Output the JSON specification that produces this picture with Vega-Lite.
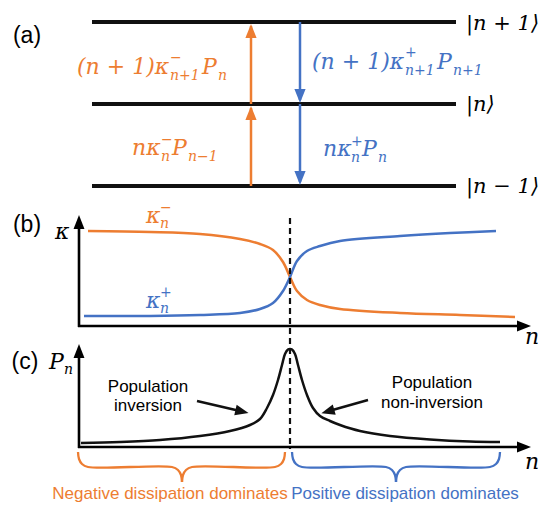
{
  "$schema": "https://vega.github.io/schema/vega-lite/v6.json",
  "width": 547,
  "height": 506,
  "autosize": {"type": "fit", "contains": "padding"},
  "padding": 0,
  "background": "white",
  "config": {"view": {"stroke": null}},
  "datasets": {
    "levels": [
      {"x": 92, "x2": 456, "y": 22},
      {"x": 92, "x2": 456, "y": 104},
      {"x": 92, "x2": 456, "y": 186}
    ],
    "vArrows": [
      {"x": 251, "y": 186, "y2": 108, "g": "neg"},
      {"x": 251, "y": 104, "y2": 26, "g": "neg"},
      {"x": 300, "y": 22, "y2": 100, "g": "pos"},
      {"x": 300, "y": 104, "y2": 182, "g": "pos"}
    ],
    "headsUpA": [
      {"x": 251, "y": 113, "g": "neg"},
      {"x": 251, "y": 31, "g": "neg"}
    ],
    "headsDownA": [
      {"x": 300, "y": 96, "g": "pos"},
      {"x": 300, "y": 178, "g": "pos"}
    ],
    "axes": [
      {"x": 79, "y": 327, "x2": 79, "y2": 222},
      {"x": 78, "y": 326, "x2": 524, "y2": 326},
      {"x": 79, "y": 448, "x2": 79, "y2": 351},
      {"x": 78, "y": 447, "x2": 524, "y2": 447}
    ],
    "axisHeadsUp": [
      {"x": 79, "y": 222},
      {"x": 79, "y": 351}
    ],
    "axisHeadsRight": [
      {"x": 524, "y": 326},
      {"x": 524, "y": 447}
    ],
    "dash": [{"x": 290, "y": 218, "y2": 449}],
    "kappa": [
      {"g": "neg", "i": 0, "x": 88, "y": 231},
      {"g": "neg", "i": 1, "x": 150, "y": 232},
      {"g": "neg", "i": 2, "x": 200, "y": 234},
      {"g": "neg", "i": 3, "x": 240, "y": 239},
      {"g": "neg", "i": 4, "x": 260, "y": 244},
      {"g": "neg", "i": 5, "x": 273, "y": 250},
      {"g": "neg", "i": 6, "x": 283, "y": 262},
      {"g": "neg", "i": 7, "x": 290, "y": 277},
      {"g": "neg", "i": 8, "x": 297, "y": 291},
      {"g": "neg", "i": 9, "x": 307, "y": 300},
      {"g": "neg", "i": 10, "x": 320, "y": 305},
      {"g": "neg", "i": 11, "x": 340, "y": 309},
      {"g": "neg", "i": 12, "x": 400, "y": 313},
      {"g": "neg", "i": 13, "x": 460, "y": 315},
      {"g": "neg", "i": 14, "x": 515, "y": 317},
      {"g": "pos", "i": 0, "x": 84, "y": 316},
      {"g": "pos", "i": 1, "x": 150, "y": 316},
      {"g": "pos", "i": 2, "x": 200, "y": 315},
      {"g": "pos", "i": 3, "x": 240, "y": 313},
      {"g": "pos", "i": 4, "x": 260, "y": 309},
      {"g": "pos", "i": 5, "x": 273, "y": 303},
      {"g": "pos", "i": 6, "x": 283, "y": 291},
      {"g": "pos", "i": 7, "x": 290, "y": 277},
      {"g": "pos", "i": 8, "x": 297, "y": 261},
      {"g": "pos", "i": 9, "x": 307, "y": 251},
      {"g": "pos", "i": 10, "x": 320, "y": 246},
      {"g": "pos", "i": 11, "x": 340, "y": 241},
      {"g": "pos", "i": 12, "x": 400, "y": 236},
      {"g": "pos", "i": 13, "x": 450, "y": 233},
      {"g": "pos", "i": 14, "x": 496, "y": 231}
    ],
    "pn": [
      {"i": 0, "x": 81, "y": 443},
      {"i": 1, "x": 120, "y": 442},
      {"i": 2, "x": 160, "y": 440},
      {"i": 3, "x": 200, "y": 436},
      {"i": 4, "x": 230, "y": 431},
      {"i": 5, "x": 250, "y": 425},
      {"i": 6, "x": 260, "y": 419},
      {"i": 7, "x": 267, "y": 408},
      {"i": 8, "x": 273, "y": 395},
      {"i": 9, "x": 278, "y": 380},
      {"i": 10, "x": 282, "y": 365},
      {"i": 11, "x": 285, "y": 354},
      {"i": 12, "x": 288, "y": 349.5},
      {"i": 13, "x": 290, "y": 349},
      {"i": 14, "x": 292, "y": 349.5},
      {"i": 15, "x": 295, "y": 354},
      {"i": 16, "x": 298, "y": 365},
      {"i": 17, "x": 302, "y": 380},
      {"i": 18, "x": 307, "y": 395},
      {"i": 19, "x": 313, "y": 408},
      {"i": 20, "x": 320, "y": 416},
      {"i": 21, "x": 330, "y": 421},
      {"i": 22, "x": 340, "y": 425},
      {"i": 23, "x": 360, "y": 431},
      {"i": 24, "x": 390, "y": 436},
      {"i": 25, "x": 430, "y": 439.5},
      {"i": 26, "x": 470, "y": 441.5},
      {"i": 27, "x": 500, "y": 442}
    ],
    "annot": [
      {"x": 197, "y": 401, "x2": 240, "y2": 411},
      {"x": 368, "y": 400, "x2": 329, "y2": 411}
    ],
    "annotHeadR": [{"x": 242, "y": 411.6}],
    "annotHeadL": [{"x": 327.8, "y": 411.4}],
    "braces": [
      {"g": "neg", "h": "a", "i": 0, "x": 78, "y": 452},
      {"g": "neg", "h": "a", "i": 1, "x": 79, "y": 459},
      {"g": "neg", "h": "a", "i": 2, "x": 82, "y": 464},
      {"g": "neg", "h": "a", "i": 3, "x": 88, "y": 467},
      {"g": "neg", "h": "a", "i": 4, "x": 172, "y": 467},
      {"g": "neg", "h": "a", "i": 5, "x": 178, "y": 470},
      {"g": "neg", "h": "a", "i": 6, "x": 181, "y": 475},
      {"g": "neg", "h": "a", "i": 7, "x": 182, "y": 482},
      {"g": "neg", "h": "b", "i": 0, "x": 182, "y": 482},
      {"g": "neg", "h": "b", "i": 1, "x": 183, "y": 475},
      {"g": "neg", "h": "b", "i": 2, "x": 186, "y": 470},
      {"g": "neg", "h": "b", "i": 3, "x": 192, "y": 467},
      {"g": "neg", "h": "b", "i": 4, "x": 275, "y": 467},
      {"g": "neg", "h": "b", "i": 5, "x": 281, "y": 464},
      {"g": "neg", "h": "b", "i": 6, "x": 284, "y": 459},
      {"g": "neg", "h": "b", "i": 7, "x": 285, "y": 452},
      {"g": "pos", "h": "c", "i": 0, "x": 292, "y": 452},
      {"g": "pos", "h": "c", "i": 1, "x": 293, "y": 459},
      {"g": "pos", "h": "c", "i": 2, "x": 296, "y": 464},
      {"g": "pos", "h": "c", "i": 3, "x": 302, "y": 467},
      {"g": "pos", "h": "c", "i": 4, "x": 386, "y": 467},
      {"g": "pos", "h": "c", "i": 5, "x": 392, "y": 470},
      {"g": "pos", "h": "c", "i": 6, "x": 395, "y": 475},
      {"g": "pos", "h": "c", "i": 7, "x": 396, "y": 482},
      {"g": "pos", "h": "d", "i": 0, "x": 396, "y": 482},
      {"g": "pos", "h": "d", "i": 1, "x": 397, "y": 475},
      {"g": "pos", "h": "d", "i": 2, "x": 400, "y": 470},
      {"g": "pos", "h": "d", "i": 3, "x": 406, "y": 467},
      {"g": "pos", "h": "d", "i": 4, "x": 490, "y": 467},
      {"g": "pos", "h": "d", "i": 5, "x": 496, "y": 464},
      {"g": "pos", "h": "d", "i": 6, "x": 499, "y": 459},
      {"g": "pos", "h": "d", "i": 7, "x": 500, "y": 452}
    ],
    "panelLabels": [
      {"x": 27, "y": 36, "t": "(a)"},
      {"x": 27, "y": 225, "t": "(b)"},
      {"x": 25, "y": 362, "t": "(c)"}
    ],
    "popText": [
      {"x": 148, "y": 387, "t": "Population"},
      {"x": 148, "y": 406, "t": "inversion"},
      {"x": 432, "y": 383, "t": "Population"},
      {"x": 432, "y": 403, "t": "non-inversion"}
    ],
    "bottomText": [
      {"x": 170, "y": 494, "t": "Negative dissipation dominates", "g": "neg"},
      {"x": 405, "y": 494, "t": "Positive dissipation dominates", "g": "pos"}
    ],
    "mathMain": [
      {"x": 77, "y": 74, "t": "(n + 1)κ", "g": "neg"},
      {"x": 202, "y": 74, "t": "P", "g": "neg"},
      {"x": 132, "y": 155, "t": "nκ", "g": "neg"},
      {"x": 172, "y": 155, "t": "P", "g": "neg"},
      {"x": 312, "y": 69, "t": "(n + 1)κ", "g": "pos"},
      {"x": 437, "y": 69, "t": "P", "g": "pos"},
      {"x": 323, "y": 156, "t": "nκ", "g": "pos"},
      {"x": 362, "y": 156, "t": "P", "g": "pos"},
      {"x": 55, "y": 239, "t": "κ", "g": "k"},
      {"x": 525, "y": 344, "t": "n", "g": "k"},
      {"x": 525, "y": 469, "t": "n", "g": "k"},
      {"x": 49, "y": 369, "t": "P", "g": "k"},
      {"x": 146, "y": 223, "t": "κ", "g": "neg"},
      {"x": 146, "y": 308, "t": "κ", "g": "pos"}
    ],
    "kets": [
      {"x": 466, "y": 30, "t": "|n + 1⟩"},
      {"x": 466, "y": 111, "t": "|n⟩"},
      {"x": 466, "y": 193, "t": "|n − 1⟩"}
    ],
    "mathScript": [
      {"x": 170, "y": 62, "t": "−", "g": "neg"},
      {"x": 170, "y": 80, "t": "n+1", "g": "neg"},
      {"x": 218, "y": 80, "t": "n", "g": "neg"},
      {"x": 161, "y": 144, "t": "−", "g": "neg"},
      {"x": 161, "y": 161, "t": "n", "g": "neg"},
      {"x": 188, "y": 161, "t": "n−1", "g": "neg"},
      {"x": 405, "y": 57, "t": "+", "g": "pos"},
      {"x": 405, "y": 75, "t": "n+1", "g": "pos"},
      {"x": 453, "y": 75, "t": "n+1", "g": "pos"},
      {"x": 351, "y": 146, "t": "+", "g": "pos"},
      {"x": 351, "y": 162, "t": "n", "g": "pos"},
      {"x": 378, "y": 162, "t": "n", "g": "pos"},
      {"x": 64, "y": 374, "t": "n", "g": "k"},
      {"x": 160, "y": 212, "t": "−", "g": "neg"},
      {"x": 160, "y": 228, "t": "n", "g": "neg"},
      {"x": 160, "y": 297, "t": "+", "g": "pos"},
      {"x": 160, "y": 313, "t": "n", "g": "pos"}
    ]
  },
  "layer": [
    {
      "data": {"name": "levels"},
      "mark": {"type": "rule", "strokeWidth": 3.8, "color": "#111111"},
      "encoding": {
        "x": {"field": "x", "type": "quantitative", "scale": {"domain": [0, 547], "nice": false, "zero": false}, "axis": null},
        "x2": {"field": "x2"},
        "y": {"field": "y", "type": "quantitative", "scale": {"domain": [0, 506], "nice": false, "zero": false, "reverse": true}, "axis": null}
      }
    },
    {
      "data": {"name": "vArrows"},
      "mark": {"type": "rule", "strokeWidth": 2.5},
      "encoding": {
        "x": {"field": "x", "type": "quantitative", "scale": {"domain": [0, 547], "nice": false, "zero": false}, "axis": null},
        "y": {"field": "y", "type": "quantitative", "scale": {"domain": [0, 506], "nice": false, "zero": false, "reverse": true}, "axis": null},
        "y2": {"field": "y2"},
        "color": {"field": "g", "type": "nominal", "scale": {"domain": ["neg", "pos", "k"], "range": ["#ED7D31", "#4472C4", "#000000"]}, "legend": null}
      }
    },
    {
      "data": {"name": "headsUpA"},
      "mark": {"type": "point", "shape": "M0,-1L0.8,1L-0.8,1Z", "size": 196, "filled": true, "opacity": 1, "strokeWidth": 0},
      "encoding": {
        "x": {"field": "x", "type": "quantitative", "scale": {"domain": [0, 547], "nice": false, "zero": false}, "axis": null},
        "y": {"field": "y", "type": "quantitative", "scale": {"domain": [0, 506], "nice": false, "zero": false, "reverse": true}, "axis": null},
        "color": {"field": "g", "type": "nominal", "scale": {"domain": ["neg", "pos", "k"], "range": ["#ED7D31", "#4472C4", "#000000"]}, "legend": null}
      }
    },
    {
      "data": {"name": "headsDownA"},
      "mark": {"type": "point", "shape": "M0,1L0.8,-1L-0.8,-1Z", "size": 196, "filled": true, "opacity": 1, "strokeWidth": 0},
      "encoding": {
        "x": {"field": "x", "type": "quantitative", "scale": {"domain": [0, 547], "nice": false, "zero": false}, "axis": null},
        "y": {"field": "y", "type": "quantitative", "scale": {"domain": [0, 506], "nice": false, "zero": false, "reverse": true}, "axis": null},
        "color": {"field": "g", "type": "nominal", "scale": {"domain": ["neg", "pos", "k"], "range": ["#ED7D31", "#4472C4", "#000000"]}, "legend": null}
      }
    },
    {
      "data": {"name": "axes"},
      "mark": {"type": "rule", "strokeWidth": 2.6, "color": "#000000"},
      "encoding": {
        "x": {"field": "x", "type": "quantitative", "scale": {"domain": [0, 547], "nice": false, "zero": false}, "axis": null},
        "x2": {"field": "x2"},
        "y": {"field": "y", "type": "quantitative", "scale": {"domain": [0, 506], "nice": false, "zero": false, "reverse": true}, "axis": null},
        "y2": {"field": "y2"}
      }
    },
    {
      "data": {"name": "axisHeadsUp"},
      "mark": {"type": "point", "shape": "M0,-1L0.78,1L-0.78,1Z", "size": 196, "filled": true, "opacity": 1, "color": "#000000", "strokeWidth": 0},
      "encoding": {
        "x": {"field": "x", "type": "quantitative", "scale": {"domain": [0, 547], "nice": false, "zero": false}, "axis": null},
        "y": {"field": "y", "type": "quantitative", "scale": {"domain": [0, 506], "nice": false, "zero": false, "reverse": true}, "axis": null}
      }
    },
    {
      "data": {"name": "axisHeadsRight"},
      "mark": {"type": "point", "shape": "M1,0L-1,0.78L-1,-0.78Z", "size": 196, "filled": true, "opacity": 1, "color": "#000000", "strokeWidth": 0},
      "encoding": {
        "x": {"field": "x", "type": "quantitative", "scale": {"domain": [0, 547], "nice": false, "zero": false}, "axis": null},
        "y": {"field": "y", "type": "quantitative", "scale": {"domain": [0, 506], "nice": false, "zero": false, "reverse": true}, "axis": null}
      }
    },
    {
      "data": {"name": "kappa"},
      "mark": {"type": "line", "strokeWidth": 2.5, "interpolate": "catmull-rom"},
      "encoding": {
        "x": {"field": "x", "type": "quantitative", "scale": {"domain": [0, 547], "nice": false, "zero": false}, "axis": null},
        "y": {"field": "y", "type": "quantitative", "scale": {"domain": [0, 506], "nice": false, "zero": false, "reverse": true}, "axis": null},
        "order": {"field": "i", "type": "quantitative"},
        "color": {"field": "g", "type": "nominal", "scale": {"domain": ["neg", "pos", "k"], "range": ["#ED7D31", "#4472C4", "#000000"]}, "legend": null}
      }
    },
    {
      "data": {"name": "dash"},
      "mark": {"type": "rule", "strokeWidth": 2.2, "strokeDash": [6, 4], "color": "#111111"},
      "encoding": {
        "x": {"field": "x", "type": "quantitative", "scale": {"domain": [0, 547], "nice": false, "zero": false}, "axis": null},
        "y": {"field": "y", "type": "quantitative", "scale": {"domain": [0, 506], "nice": false, "zero": false, "reverse": true}, "axis": null},
        "y2": {"field": "y2"}
      }
    },
    {
      "data": {"name": "pn"},
      "mark": {"type": "line", "strokeWidth": 2.5, "interpolate": "catmull-rom", "color": "#111111"},
      "encoding": {
        "x": {"field": "x", "type": "quantitative", "scale": {"domain": [0, 547], "nice": false, "zero": false}, "axis": null},
        "y": {"field": "y", "type": "quantitative", "scale": {"domain": [0, 506], "nice": false, "zero": false, "reverse": true}, "axis": null},
        "order": {"field": "i", "type": "quantitative"}
      }
    },
    {
      "data": {"name": "annot"},
      "mark": {"type": "rule", "strokeWidth": 2.5, "color": "#111111"},
      "encoding": {
        "x": {"field": "x", "type": "quantitative", "scale": {"domain": [0, 547], "nice": false, "zero": false}, "axis": null},
        "x2": {"field": "x2"},
        "y": {"field": "y", "type": "quantitative", "scale": {"domain": [0, 506], "nice": false, "zero": false, "reverse": true}, "axis": null},
        "y2": {"field": "y2"}
      }
    },
    {
      "data": {"name": "annotHeadR"},
      "mark": {"type": "point", "shape": "M1,0L-1,0.8L-1,-0.8Z", "size": 180, "angle": 13, "filled": true, "opacity": 1, "color": "#111111", "strokeWidth": 0},
      "encoding": {
        "x": {"field": "x", "type": "quantitative", "scale": {"domain": [0, 547], "nice": false, "zero": false}, "axis": null},
        "y": {"field": "y", "type": "quantitative", "scale": {"domain": [0, 506], "nice": false, "zero": false, "reverse": true}, "axis": null}
      }
    },
    {
      "data": {"name": "annotHeadL"},
      "mark": {"type": "point", "shape": "M-1,0L1,0.8L1,-0.8Z", "size": 180, "angle": -16, "filled": true, "opacity": 1, "color": "#111111", "strokeWidth": 0},
      "encoding": {
        "x": {"field": "x", "type": "quantitative", "scale": {"domain": [0, 547], "nice": false, "zero": false}, "axis": null},
        "y": {"field": "y", "type": "quantitative", "scale": {"domain": [0, 506], "nice": false, "zero": false, "reverse": true}, "axis": null}
      }
    },
    {
      "data": {"name": "braces"},
      "mark": {"type": "line", "strokeWidth": 2.3, "interpolate": "catmull-rom"},
      "encoding": {
        "x": {"field": "x", "type": "quantitative", "scale": {"domain": [0, 547], "nice": false, "zero": false}, "axis": null},
        "y": {"field": "y", "type": "quantitative", "scale": {"domain": [0, 506], "nice": false, "zero": false, "reverse": true}, "axis": null},
        "order": {"field": "i", "type": "quantitative"},
        "detail": {"field": "h", "type": "nominal"},
        "color": {"field": "g", "type": "nominal", "scale": {"domain": ["neg", "pos", "k"], "range": ["#ED7D31", "#4472C4", "#000000"]}, "legend": null}
      }
    },
    {
      "data": {"name": "panelLabels"},
      "mark": {"type": "text", "font": "Liberation Sans", "fontSize": 23, "align": "center", "baseline": "middle", "color": "#000000"},
      "encoding": {
        "x": {"field": "x", "type": "quantitative", "scale": {"domain": [0, 547], "nice": false, "zero": false}, "axis": null},
        "y": {"field": "y", "type": "quantitative", "scale": {"domain": [0, 506], "nice": false, "zero": false, "reverse": true}, "axis": null},
        "text": {"field": "t"}
      }
    },
    {
      "data": {"name": "popText"},
      "mark": {"type": "text", "font": "Liberation Sans", "fontSize": 17, "align": "center", "baseline": "middle", "color": "#000000"},
      "encoding": {
        "x": {"field": "x", "type": "quantitative", "scale": {"domain": [0, 547], "nice": false, "zero": false}, "axis": null},
        "y": {"field": "y", "type": "quantitative", "scale": {"domain": [0, 506], "nice": false, "zero": false, "reverse": true}, "axis": null},
        "text": {"field": "t"}
      }
    },
    {
      "data": {"name": "bottomText"},
      "mark": {"type": "text", "font": "Liberation Sans", "fontSize": 17, "align": "center", "baseline": "middle"},
      "encoding": {
        "x": {"field": "x", "type": "quantitative", "scale": {"domain": [0, 547], "nice": false, "zero": false}, "axis": null},
        "y": {"field": "y", "type": "quantitative", "scale": {"domain": [0, 506], "nice": false, "zero": false, "reverse": true}, "axis": null},
        "text": {"field": "t"},
        "color": {"field": "g", "type": "nominal", "scale": {"domain": ["neg", "pos", "k"], "range": ["#ED7D31", "#4472C4", "#000000"]}, "legend": null}
      }
    },
    {
      "data": {"name": "mathMain"},
      "mark": {"type": "text", "font": "DejaVu Serif", "fontStyle": "italic", "fontSize": 22, "align": "left", "baseline": "alphabetic"},
      "encoding": {
        "x": {"field": "x", "type": "quantitative", "scale": {"domain": [0, 547], "nice": false, "zero": false}, "axis": null},
        "y": {"field": "y", "type": "quantitative", "scale": {"domain": [0, 506], "nice": false, "zero": false, "reverse": true}, "axis": null},
        "text": {"field": "t"},
        "color": {"field": "g", "type": "nominal", "scale": {"domain": ["neg", "pos", "k"], "range": ["#ED7D31", "#4472C4", "#000000"]}, "legend": null}
      }
    },
    {
      "data": {"name": "kets"},
      "mark": {"type": "text", "font": "DejaVu Serif", "fontStyle": "italic", "fontSize": 21, "align": "left", "baseline": "alphabetic", "color": "#000000"},
      "encoding": {
        "x": {"field": "x", "type": "quantitative", "scale": {"domain": [0, 547], "nice": false, "zero": false}, "axis": null},
        "y": {"field": "y", "type": "quantitative", "scale": {"domain": [0, 506], "nice": false, "zero": false, "reverse": true}, "axis": null},
        "text": {"field": "t"}
      }
    },
    {
      "data": {"name": "mathScript"},
      "mark": {"type": "text", "font": "DejaVu Serif", "fontStyle": "italic", "fontSize": 14, "align": "left", "baseline": "alphabetic"},
      "encoding": {
        "x": {"field": "x", "type": "quantitative", "scale": {"domain": [0, 547], "nice": false, "zero": false}, "axis": null},
        "y": {"field": "y", "type": "quantitative", "scale": {"domain": [0, 506], "nice": false, "zero": false, "reverse": true}, "axis": null},
        "text": {"field": "t"},
        "color": {"field": "g", "type": "nominal", "scale": {"domain": ["neg", "pos", "k"], "range": ["#ED7D31", "#4472C4", "#000000"]}, "legend": null}
      }
    }
  ]
}
